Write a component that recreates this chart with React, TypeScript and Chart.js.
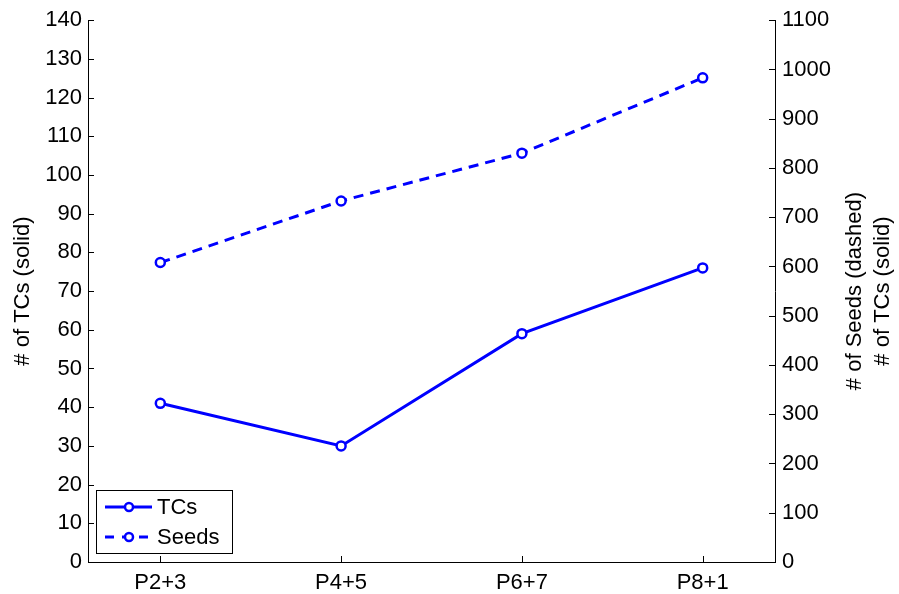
import React, { useEffect, useRef } from "react";
import { Chart, registerables } from "chart.js";

Chart.register(...registerables);

const categories = ["P2+3", "P4+5", "P6+7", "P8+1"];
const tcsValues = [41, 30, 59, 76];
const seedsValues = [608, 733, 830, 983];
const leftTicks = [0, 10, 20, 30, 40, 50, 60, 70, 80, 90, 100, 110, 120, 130, 140];
const rightTicks = [0, 100, 200, 300, 400, 500, 600, 700, 800, 900, 1000, 1100];
const seriesNames = ["TCs", "Seeds"];

const FONT = "Liberation Sans, Arial, Helvetica, sans-serif";
const FS = 22;
const BLUE = "#0000ff";

const decorPlugin = {
  id: "decor",
  afterDraw(chart: any) {
    const ctx = chart.ctx as CanvasRenderingContext2D;
    const a = chart.chartArea;
    const x = chart.scales.x;
    const y = chart.scales.y;
    const y1 = chart.scales.y1;
    ctx.save();
    ctx.strokeStyle = "#000";
    ctx.lineWidth = 1;
    const tl = 6;
    leftTicks.forEach((v) => {
      const py = Math.round(y.getPixelForValue(v)) + 0.5;
      ctx.beginPath();
      ctx.moveTo(a.left, py);
      ctx.lineTo(a.left + tl, py);
      ctx.stroke();
    });
    rightTicks.forEach((v) => {
      const py = Math.round(y1.getPixelForValue(v)) + 0.5;
      ctx.beginPath();
      ctx.moveTo(a.right, py);
      ctx.lineTo(a.right - tl, py);
      ctx.stroke();
    });
    categories.forEach((_, i) => {
      const px = Math.round(x.getPixelForValue(i + 1)) + 0.5;
      ctx.beginPath();
      ctx.moveTo(px, a.bottom);
      ctx.lineTo(px, a.bottom - tl);
      ctx.stroke();
    });
    ctx.fillStyle = "#000";
    ctx.font = `${FS}px ${FONT}`;
    ctx.textAlign = "center";
    ctx.textBaseline = "middle";
    const cy = (a.top + a.bottom) / 2;
    const drawRot = (text: string, cx: number) => {
      ctx.save();
      ctx.translate(cx, cy);
      ctx.rotate(-Math.PI / 2);
      ctx.fillText(text, 0, 0);
      ctx.restore();
    };
    drawRot("# of TCs (solid)", 23);
    drawRot("# of Seeds (dashed)", 855);
    drawRot("# of TCs (solid)", 883);

    // legend
    const lx = 96, ly = 490, lw = 136, lh = 63;
    ctx.fillStyle = "#fff";
    ctx.fillRect(lx, ly, lw, lh);
    ctx.strokeStyle = "#000";
    ctx.lineWidth = 1;
    ctx.strokeRect(lx + 0.5, ly + 0.5, lw, lh);
    const rows = [
      { name: seriesNames[0], dash: [] as number[], yy: 507 },
      { name: seriesNames[1], dash: [9, 8], yy: 537 },
    ];
    rows.forEach((r) => {
      ctx.strokeStyle = BLUE;
      ctx.lineWidth = 3;
      ctx.setLineDash(r.dash);
      ctx.beginPath();
      ctx.moveTo(105, r.yy);
      ctx.lineTo(152, r.yy);
      ctx.stroke();
      ctx.setLineDash([]);
      ctx.fillStyle = "#fff";
      ctx.beginPath();
      ctx.arc(129, r.yy, 4, 0, Math.PI * 2);
      ctx.fill();
      ctx.lineWidth = 2.5;
      ctx.stroke();
      ctx.fillStyle = "#000";
      ctx.font = `${FS}px ${FONT}`;
      ctx.textAlign = "left";
      ctx.textBaseline = "middle";
      ctx.fillText(r.name, 157, r.yy + 1);
    });
    ctx.restore();
  },
};

export default function App() {
  const ref = useRef<HTMLCanvasElement>(null);
  useEffect(() => {
    if (!ref.current) return;
    const pointStyle = {
      pointRadius: 4.5,
      pointBorderWidth: 2.5,
      pointBackgroundColor: "#fff",
      pointBorderColor: BLUE,
    };
    const tickFont = { family: FONT, size: FS };
    const chart = new Chart(ref.current, {
      type: "line",
      data: {
        datasets: [
          {
            label: seriesNames[0],
            data: tcsValues.map((v, i) => ({ x: i + 1, y: v })),
            borderColor: BLUE,
            borderWidth: 3,
            yAxisID: "y",
            ...pointStyle,
          },
          {
            label: seriesNames[1],
            data: seedsValues.map((v, i) => ({ x: i + 1, y: v })),
            borderColor: BLUE,
            borderWidth: 3,
            borderDash: [10, 7],
            yAxisID: "y1",
            ...pointStyle,
          },
        ],
      },
      plugins: [decorPlugin],
      options: {
        animation: false,
        responsive: false,
        maintainAspectRatio: false,
        layout: { padding: { top: 19, left: 0, right: 0, bottom: 0 } },
        plugins: { legend: { display: false }, tooltip: { enabled: false } },
        scales: {
          x: {
            type: "linear",
            min: 0.6,
            max: 4.4,
            afterBuildTicks: (s: any) => {
              s.ticks = categories.map((_, i) => ({ value: i + 1 }));
            },
            afterFit: (s: any) => {
              s.height = 32;
            },
            grid: { display: false, drawTicks: false },
            border: { display: true, color: "#000", width: 1 },
            ticks: {
              color: "#000",
              font: tickFont,
              padding: 8,
              maxRotation: 0,
              callback: (v: any) => categories[Math.round(Number(v)) - 1] ?? "",
            },
          },
          y: {
            position: "left",
            min: 0,
            max: 140,
            afterBuildTicks: (s: any) => {
              s.ticks = leftTicks.map((v) => ({ value: v }));
            },
            afterFit: (s: any) => {
              s.width = 88;
            },
            grid: { display: false, drawTicks: false },
            border: { display: true, color: "#000", width: 1 },
            ticks: {
              color: "#000",
              font: tickFont,
              padding: 6,
              callback: (v: any) => String(v),
            },
          },
          y1: {
            position: "right",
            min: 0,
            max: 1100,
            afterBuildTicks: (s: any) => {
              s.ticks = rightTicks.map((v) => ({ value: v }));
            },
            afterFit: (s: any) => {
              s.width = 124;
            },
            grid: { display: false, drawTicks: false },
            border: { display: true, color: "#000", width: 1 },
            ticks: {
              color: "#000",
              font: tickFont,
              padding: 7,
              callback: (v: any) => String(v),
            },
          },
        },
      },
    } as any);
    return () => chart.destroy();
  }, []);
  return (
    <div style={{ position: "fixed", left: 0, top: 0, width: 899, height: 594, background: "#fff" }}>
      <canvas ref={ref} width={899} height={594} style={{ width: 899, height: 594 }} />
    </div>
  );
}
